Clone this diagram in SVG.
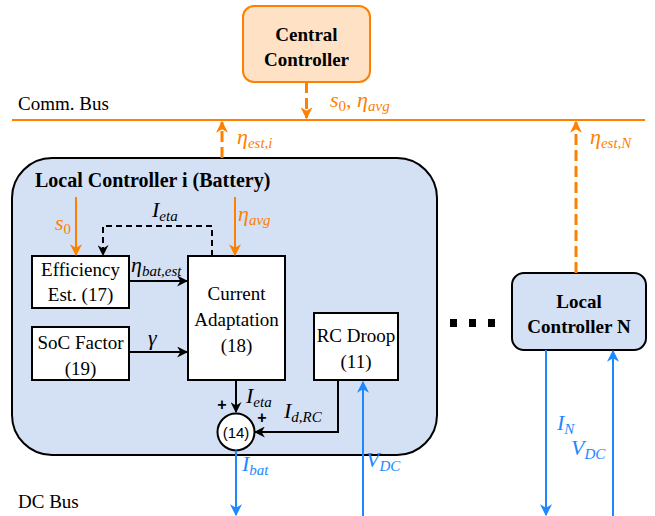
<svg xmlns="http://www.w3.org/2000/svg" width="655" height="516" viewBox="0 0 655 516" font-family="Liberation Serif, serif">
  <style>
    .t { font-family: "Liberation Serif", "Times New Roman", serif; fill: #000; }
    .s { font-family: "Liberation Sans", Arial, sans-serif; fill: #000; }
    .bold { font-weight: bold; }
    .lbl { font-size: 19px; text-anchor: middle; }
    .math { font-style: italic; font-size: 22px; }
    .sub { font-size: 15px; }
    .orange { fill: #FF8000; }
    .blue { fill: #1E88FF; }
    .box { fill: #fff; stroke: #000; stroke-width: 2; }
    .wireK { fill: none; stroke: #000; stroke-width: 2; }
    .wireO { fill: none; stroke: #FF8000; stroke-width: 3; stroke-dasharray: 11 5; }
    .wireB { fill: none; stroke: #1E88FF; stroke-width: 2; }
  </style>
  <defs>
    <marker id="arrK" viewBox="0 0 10 10" refX="9" refY="5" markerWidth="11" markerHeight="11" markerUnits="userSpaceOnUse" orient="auto">
      <path d="M0,0 L10,5 L0,10 L3,5 z" fill="#000"/>
    </marker>
    <marker id="arrO" viewBox="0 0 10 10" refX="9" refY="5" markerWidth="12" markerHeight="12" markerUnits="userSpaceOnUse" orient="auto">
      <path d="M0,0 L10,5 L0,10 L3,5 z" fill="#FF8000"/>
    </marker>
    <marker id="arrB" viewBox="0 0 10 10" refX="9" refY="5" markerWidth="12" markerHeight="12" markerUnits="userSpaceOnUse" orient="auto">
      <path d="M0,0 L10,5 L0,10 L3,5 z" fill="#1E88FF"/>
    </marker>
  </defs>

  <!-- communication bus -->
  <g id="comm-bus">
    <line x1="12" y1="120" x2="645" y2="120" stroke="#FF8000" stroke-width="2"/>
    <text x="18" y="110" class="t" font-family="Liberation Serif, serif" style="font-family: 'Liberation Serif', serif" font-size="19">Comm. Bus</text>
  </g>
  <g id="dc-bus">
    <text x="18" y="508" class="t" font-family="Liberation Serif, serif" style="font-family: 'Liberation Serif', serif" font-size="19">DC Bus</text>
  </g>

  <!-- central controller -->
  <g id="central-controller">
    <rect x="243" y="6" width="127" height="76" rx="11" fill="#FFE2C6" stroke="#FF8000" stroke-width="2"/>
    <text x="306.5" y="41" class="t lbl bold" font-family="Liberation Serif, serif" style="font-family: 'Liberation Serif', serif" font-size="20">Central</text>
    <text x="306.5" y="66" class="t lbl bold" font-family="Liberation Serif, serif" style="font-family: 'Liberation Serif', serif" font-size="20">Controller</text>
  </g>

  <!-- local controller i -->
  <g id="local-controller-i">
    <rect x="12" y="158" width="425" height="297" rx="40" fill="#D4E1F5" stroke="#000" stroke-width="2"/>
    <text x="35" y="187" class="t bold" font-family="Liberation Serif, serif" style="font-family: 'Liberation Serif', serif" font-size="20">Local Controller i (Battery)</text>
  </g>

  <g id="efficiency-est">
    <rect x="32" y="256" width="97" height="52" class="box"/>
    <text x="80.5" y="276" class="t lbl" font-family="Liberation Serif, serif" style="font-family: 'Liberation Serif', serif">Efficiency</text>
    <text x="80.5" y="301" class="t lbl" font-family="Liberation Serif, serif" style="font-family: 'Liberation Serif', serif">Est. (17)</text>
  </g>

  <g id="soc-factor">
    <rect x="32" y="327" width="97" height="53" class="box"/>
    <text x="80.5" y="349" class="t lbl" font-family="Liberation Serif, serif" style="font-family: 'Liberation Serif', serif">SoC Factor</text>
    <text x="80.5" y="375" class="t lbl" font-family="Liberation Serif, serif" style="font-family: 'Liberation Serif', serif">(19)</text>
  </g>

  <g id="current-adaptation">
    <rect x="188" y="256" width="97" height="124" class="box"/>
    <text x="236.5" y="300" class="t lbl" font-family="Liberation Serif, serif" style="font-family: 'Liberation Serif', serif">Current</text>
    <text x="236.5" y="326" class="t lbl" font-family="Liberation Serif, serif" style="font-family: 'Liberation Serif', serif">Adaptation</text>
    <text x="236.5" y="352" class="t lbl" font-family="Liberation Serif, serif" style="font-family: 'Liberation Serif', serif">(18)</text>
  </g>

  <g id="rc-droop">
    <rect x="314" y="313" width="84" height="67" class="box"/>
    <text x="356" y="342" class="t lbl" font-family="Liberation Serif, serif" style="font-family: 'Liberation Serif', serif">RC Droop</text>
    <text x="356" y="368" class="t lbl" font-family="Liberation Serif, serif" style="font-family: 'Liberation Serif', serif">(11)</text>
  </g>

  <g id="sum-14">
    <circle cx="236" cy="432" r="18.5" fill="#fff" stroke="#000" stroke-width="2"/>
    <text x="236" y="437.5" class="s" font-family="Liberation Sans, sans-serif" font-size="15" text-anchor="middle">(14)</text>
    <text x="222" y="410" class="s bold" font-family="Liberation Sans, sans-serif" font-size="16" text-anchor="middle">+</text>
    <text x="262" y="423" class="s bold" font-family="Liberation Sans, sans-serif" font-size="16" text-anchor="middle">+</text>
  </g>

  <!-- local controller N -->
  <g id="local-controller-n">
    <rect x="512" y="273" width="134" height="77" rx="12" fill="#D4E1F5" stroke="#000" stroke-width="2"/>
    <text x="579" y="308" class="t lbl bold" font-family="Liberation Serif, serif" style="font-family: 'Liberation Serif', serif" font-size="20">Local</text>
    <text x="579" y="333" class="t lbl bold" font-family="Liberation Serif, serif" style="font-family: 'Liberation Serif', serif" font-size="20">Controller N</text>
  </g>

  <g id="ellipsis">
    <rect x="450" y="319" width="7" height="8" fill="#000"/>
    <rect x="469" y="319" width="7" height="8" fill="#000"/>
    <rect x="488" y="319" width="7" height="8" fill="#000"/>
  </g>

  <!-- connectors -->
  <g id="connectors">
    <!-- communication links -->
    <path d="M306.5,82 V118" class="wireO" marker-end="url(#arrO)"/>
    <path d="M222,158 V122" class="wireO" marker-end="url(#arrO)"/>
    <path d="M576,273 V122" class="wireO" marker-end="url(#arrO)"/>
    <!-- inputs into local controller i -->
    <path d="M76,197 V255" fill="none" stroke="#FF8000" stroke-width="2" marker-end="url(#arrO)"/>
    <path d="M235,197 V255" fill="none" stroke="#FF8000" stroke-width="2" marker-end="url(#arrO)"/>
    <!-- feedback of I_eta -->
    <path d="M212,256 V226 H103 V255" fill="none" stroke="#000" stroke-width="2" stroke-dasharray="6 4" marker-end="url(#arrK)"/>
    <!-- internal signals -->
    <path d="M129,281 H187" class="wireK" marker-end="url(#arrK)"/>
    <path d="M129,352 H187" class="wireK" marker-end="url(#arrK)"/>
    <path d="M236,380 V412" class="wireK" marker-end="url(#arrK)"/>
    <path d="M338,380 V432 H255" class="wireK" marker-end="url(#arrK)"/>
    <!-- DC bus links -->
    <path d="M236,450.5 V515" class="wireB" marker-end="url(#arrB)"/>
    <path d="M363,516 V382" class="wireB" marker-end="url(#arrB)"/>
    <path d="M546,350 V515" class="wireB" marker-end="url(#arrB)"/>
    <path d="M613,516 V351" class="wireB" marker-end="url(#arrB)"/>
  </g>

  <!-- signal labels -->
  <g id="labels" font-family="Liberation Serif, serif">
    <text x="330" y="107" class="t math orange" style="font-family: 'Liberation Serif', serif">s<tspan class="sub" dy="4" font-style="normal">0</tspan><tspan dy="-4" font-style="normal">, </tspan>η<tspan class="sub" dy="4">avg</tspan></text>
    <text x="237" y="144" class="t math orange" style="font-family: 'Liberation Serif', serif">η<tspan class="sub" dy="4">est,i</tspan></text>
    <text x="590" y="144" class="t math orange" style="font-family: 'Liberation Serif', serif">η<tspan class="sub" dy="4">est,N</tspan></text>
    <text x="55" y="230" class="t math orange" style="font-family: 'Liberation Serif', serif">s<tspan class="sub" dy="4" font-style="normal">0</tspan></text>
    <text x="238" y="221" class="t math orange" style="font-family: 'Liberation Serif', serif">η<tspan class="sub" dy="4">avg</tspan></text>
    <text x="152" y="217" class="t math" style="font-family: 'Liberation Serif', serif">I<tspan class="sub" dy="4">eta</tspan></text>
    <text x="131" y="272" class="t math" style="font-family: 'Liberation Serif', serif">η<tspan class="sub" dy="4">bat,est</tspan></text>
    <text x="148" y="345" class="t math" style="font-family: 'Liberation Serif', serif">γ</text>
    <text x="246" y="403" class="t math" style="font-family: 'Liberation Serif', serif">I<tspan class="sub" dy="4">eta</tspan></text>
    <text x="284" y="418" class="t math" style="font-family: 'Liberation Serif', serif">I<tspan class="sub" dy="4">d,RC</tspan></text>
    <text x="242" y="471" class="t math blue" style="font-family: 'Liberation Serif', serif">I<tspan class="sub" dy="4">bat</tspan></text>
    <text x="366" y="467" class="t math blue" style="font-family: 'Liberation Serif', serif">V<tspan class="sub" dy="4">DC</tspan></text>
    <text x="557" y="430" class="t math blue" style="font-family: 'Liberation Serif', serif">I<tspan class="sub" dy="4">N</tspan></text>
    <text x="571" y="455" class="t math blue" style="font-family: 'Liberation Serif', serif">V<tspan class="sub" dy="4">DC</tspan></text>
  </g>
</svg>
